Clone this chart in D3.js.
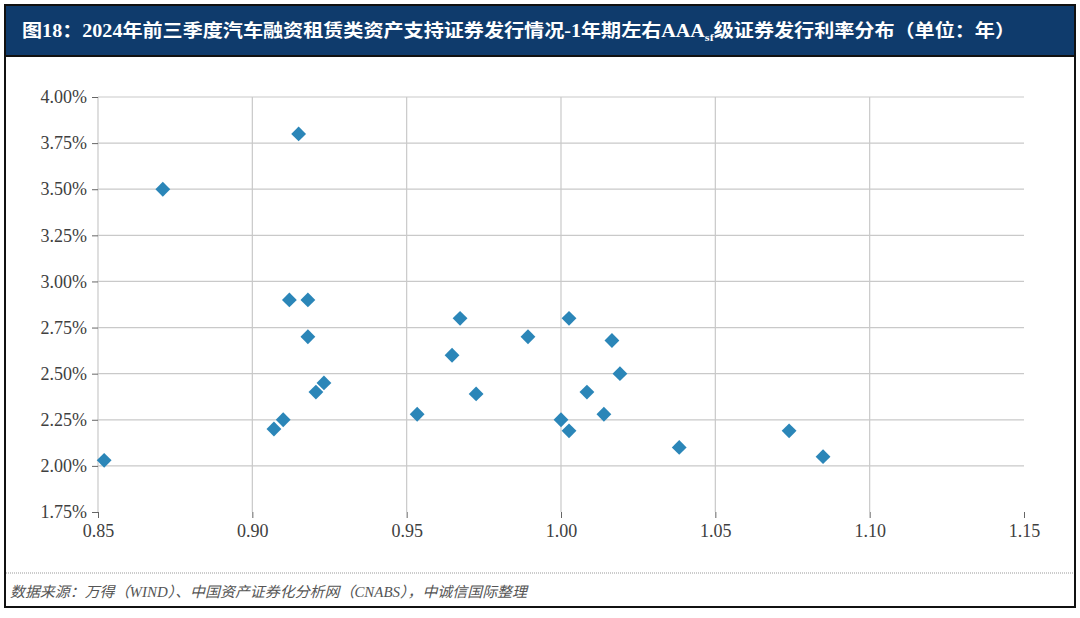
<!DOCTYPE html>
<html><head><meta charset="utf-8">
<script src="https://cdn.jsdelivr.net/npm/d3@7"></script>
<style>body{margin:0;background:#fff}svg{display:block}</style>
</head><body>
<script>
const title = "图18：2024年前三季度汽车融资租赁类资产支持证券发行情况-1年期左右AAA";
const titleSub = "sf";
const titleTail = "级证券发行利率分布（单位：年）";
const source = "数据来源：万得（WIND）、中国资产证券化分析网（CNABS），中诚信国际整理";
const xTicks = [0.85, 0.90, 0.95, 1.00, 1.05, 1.10, 1.15];
const yTicks = [1.75, 2.00, 2.25, 2.50, 2.75, 3.00, 3.25, 3.50, 3.75, 4.00];
const term = [0.852,0.871,0.915,0.912,0.918,0.918,0.9206,0.9232,0.910,0.907,0.9534,0.9647,0.9673,0.9725,0.9893,1.0026,1.000,1.0026,1.0084,1.0139,1.0165,1.0191,1.0383,1.0739,1.0849];
const rate = [2.03,3.50,3.80,2.90,2.90,2.70,2.40,2.45,2.25,2.20,2.28,2.60,2.80,2.39,2.70,2.80,2.25,2.19,2.40,2.28,2.68,2.50,2.10,2.19,2.05];

const W = 1080, H = 618;
const svg = d3.select("body").append("svg").attr("width", W).attr("height", H);
svg.append("rect").attr("x",0).attr("y",0).attr("width",W).attr("height",H).attr("fill","#fff");

// frame
svg.append("rect").attr("x",5).attr("y",5).attr("width",1070).attr("height",602)
  .attr("fill","#fff").attr("stroke","#111").attr("stroke-width",2);
svg.append("rect").attr("x",5).attr("y",5).attr("width",1070).attr("height",51)
  .attr("fill","#0f3b6c").attr("stroke","#111").attr("stroke-width",2);

const t = svg.append("text").attr("x",22).attr("y",37)
  .attr("fill","#fff").attr("font-size",18).attr("font-weight","bold")
  .attr("font-family","'Liberation Serif','Noto Sans CJK SC',serif")
  .attr("textLength",993).attr("lengthAdjust","spacingAndGlyphs");
t.append("tspan").text(title);
t.append("tspan").attr("font-size",11).attr("dy",4).text(titleSub);
t.append("tspan").attr("dy",-4).text(titleTail);

const x = d3.scaleLinear().domain([0.85,1.15]).range([98,1024]);
const y = d3.scaleLinear().domain([1.75,4.00]).range([512,97]);
const grid = "#c9c9c9";

// horizontal gridlines
svg.append("g").selectAll("line").data(yTicks.filter(v=>v>1.75)).join("line")
  .attr("x1",x(0.85)).attr("x2",x(1.15)).attr("y1",d=>y(d)).attr("y2",d=>y(d))
  .attr("stroke",grid).attr("stroke-width",1.2);
// vertical gridlines
svg.append("g").selectAll("line").data(xTicks.filter(v=>v>0.85 && v<1.15)).join("line")
  .attr("x1",d=>x(d)).attr("x2",d=>x(d)).attr("y1",y(4.00)).attr("y2",y(1.75))
  .attr("stroke",grid).attr("stroke-width",1.2);

// y axis
const yAxis = d3.axisLeft(y).tickValues(yTicks).tickFormat(d=>d.toFixed(2)+"%").tickSize(6).tickPadding(5);
const gy = svg.append("g").attr("transform",`translate(${x(0.85)},0)`).call(yAxis);
gy.select(".domain").attr("stroke",grid).attr("stroke-width",1.2).attr("d",`M0,${y(4.00)}V${y(1.75)}`);
gy.selectAll(".tick line").attr("stroke","#666");
gy.selectAll("text").attr("font-family","'Liberation Serif',serif").attr("font-size",18).attr("fill","#404040");

// x axis
const xAxis = d3.axisBottom(x).tickValues(xTicks).tickFormat(d3.format(".2f")).tickSize(6).tickPadding(6);
const gx = svg.append("g").attr("transform",`translate(0,${y(1.75)})`).call(xAxis);
gx.select(".domain").remove();
gx.selectAll(".tick line").attr("stroke","#666");
gx.selectAll("text").attr("font-family","'Liberation Serif',serif").attr("font-size",18).attr("fill","#404040");

// points
const pts = term.map((d,i)=>({x:d,y:rate[i]}));
svg.append("g").selectAll("path").data(pts).join("path")
  .attr("d", d3.symbol().type(d3.symbolDiamond2).size(140))
  .attr("transform",d=>`translate(${x(d.x)},${y(d.y)})`)
  .attr("fill","#2b86b8");

// footer
svg.append("line").attr("x1",6).attr("x2",1074).attr("y1",573).attr("y2",573)
  .attr("stroke","#999").attr("stroke-width",1).attr("stroke-dasharray","1,1");
svg.append("text").attr("x",10).attr("y",597).text(source)
  .attr("font-family","'Liberation Serif','Noto Sans CJK SC',serif").attr("font-style","italic")
  .attr("font-size",14.5).attr("fill","#555")
  .attr("textLength",517).attr("lengthAdjust","spacingAndGlyphs");
</script>
</body></html>
